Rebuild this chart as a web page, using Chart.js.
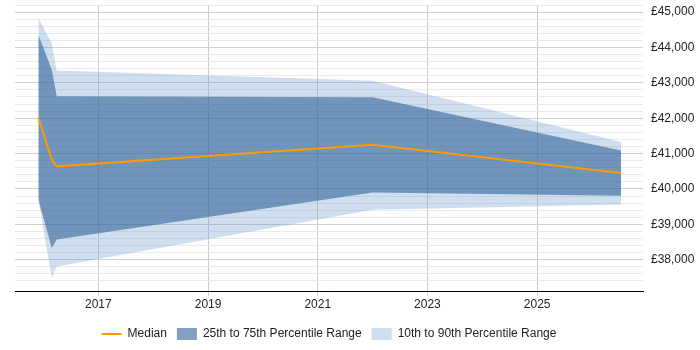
<!DOCTYPE html>
<html lang="en">
<head>
<meta charset="UTF-8" />
<title>Salary percentiles</title>
<style>
    body {
        margin: 0;
        background: #fff;
    }

    .wrap {
        width: 700px;
        height: 350px;
    }
</style>
<script src="https://cdn.jsdelivr.net/npm/chart.js"></script>
</head>
<body>
<div class="wrap"><canvas id="grafico"></canvas></div>

<script>
    // data (x = decimal year)
    const anos = [2015.906, 2016.15, 2016.24, 2022.0, 2026.53];
    const mediana = [42020, 40830, 40640, 41250, 40450];
    const p75 = [44360, 43370, 42620, 42590, 41090];
    const p25 = [39700, 38330, 38570, 39900, 39810];
    const p90 = [44830, 44120, 43350, 43060, 41330];
    const p10 = [39700, 37490, 37810, 39410, 39560];
    const anosLabel = [2017, 2019, 2021, 2023, 2025];

    const pontos = serie => anos.map((a, i) => ({ x: a, y: serie[i] }));

    Chart.defaults.font.family = "'Liberation Sans', Arial, sans-serif";
    Chart.defaults.font.size = 12;
    Chart.defaults.color = '#333';

    // centre the legend under the plot area instead of the whole canvas
    const legendaCentro = {
        id: 'legendaCentro',
        beforeDraw(chart) {
            const lg = chart.legend;
            const ca = chart.chartArea;
            if (!lg || !ca) return;
            const desloc = (ca.left + ca.right) / 2 - (lg.left + lg.right) / 2;
            lg.left += desloc;
            lg.right += desloc;
        }
    };

    new Chart(document.getElementById('grafico'), {
        type: 'line',
        data: {
            datasets: [
                {
                    label: 'Median',
                    data: pontos(mediana),
                    borderColor: '#ff9900',
                    backgroundColor: '#ff9900',
                    borderWidth: 2,
                    pointRadius: 0,
                    pointStyle: 'line',
                    fill: false
                },
                {
                    label: '25th to 75th Percentile Range',
                    data: pontos(p75),
                    borderWidth: 0,
                    backgroundColor: 'rgba(48,96,150,0.6)',
                    borderColor: 'rgba(48,96,150,0.6)',
                    pointRadius: 0,
                    pointStyle: 'rect',
                    fill: '+1'
                },
                {
                    label: '',
                    data: pontos(p25),
                    borderWidth: 0,
                    pointRadius: 0,
                    fill: false
                },
                {
                    label: '10th to 90th Percentile Range',
                    data: pontos(p90),
                    borderWidth: 0,
                    backgroundColor: 'rgba(100,150,205,0.3)',
                    borderColor: 'rgba(100,150,205,0.3)',
                    pointRadius: 0,
                    pointStyle: 'rect',
                    fill: '+1'
                },
                {
                    label: '',
                    data: pontos(p10),
                    borderWidth: 0,
                    pointRadius: 0,
                    fill: false
                }
            ]
        },
        options: {
            responsive: true,
            maintainAspectRatio: false,
            animation: false,
            layout: { padding: { left: 15, top: 5, right: 0, bottom: 0 } },
            elements: { line: { tension: 0 } },
            plugins: {
                tooltip: { enabled: false },
                legend: {
                    position: 'bottom',
                    labels: {
                        usePointStyle: true,
                        pointStyleWidth: 20,
                        boxHeight: 14,
                        padding: 10,
                        color: '#222',
                        filter: item => item.text !== ''
                    }
                }
            },
            scales: {
                x: {
                    type: 'linear',
                    min: 2015.48,
                    max: 2026.93,
                    afterBuildTicks: axis => {
                        axis.ticks = anosLabel.map(v => ({ value: v }));
                    },
                    afterFit: axis => {
                        axis.height += 4;
                    },
                    ticks: {
                        callback: v => String(v),
                        color: '#222',
                        padding: 2,
                        maxRotation: 0
                    },
                    grid: {
                        color: '#cccccc',
                        tickLength: 4
                    },
                    border: { color: '#000', width: 1 }
                },
                y: {
                    position: 'right',
                    min: 37100,
                    max: 45200,
                    afterFit: axis => {
                        axis.width = 57;
                        axis.paddingTop = 0;
                        axis.paddingBottom = 0;
                    },
                    ticks: {
                        stepSize: 200,
                        autoSkip: false,
                        padding: 8,
                        color: '#222',
                        callback: v => v % 1000 === 0 ? '£' + v.toLocaleString('en-GB') : ''
                    },
                    grid: {
                        drawTicks: false,
                        color: ctx => ctx.tick && ctx.tick.value % 1000 === 0 ? '#d0d0d0' : '#ebebeb'
                    },
                    border: { display: false }
                }
            }
        },
        plugins: [legendaCentro]
    });
</script>
</body>
</html>
